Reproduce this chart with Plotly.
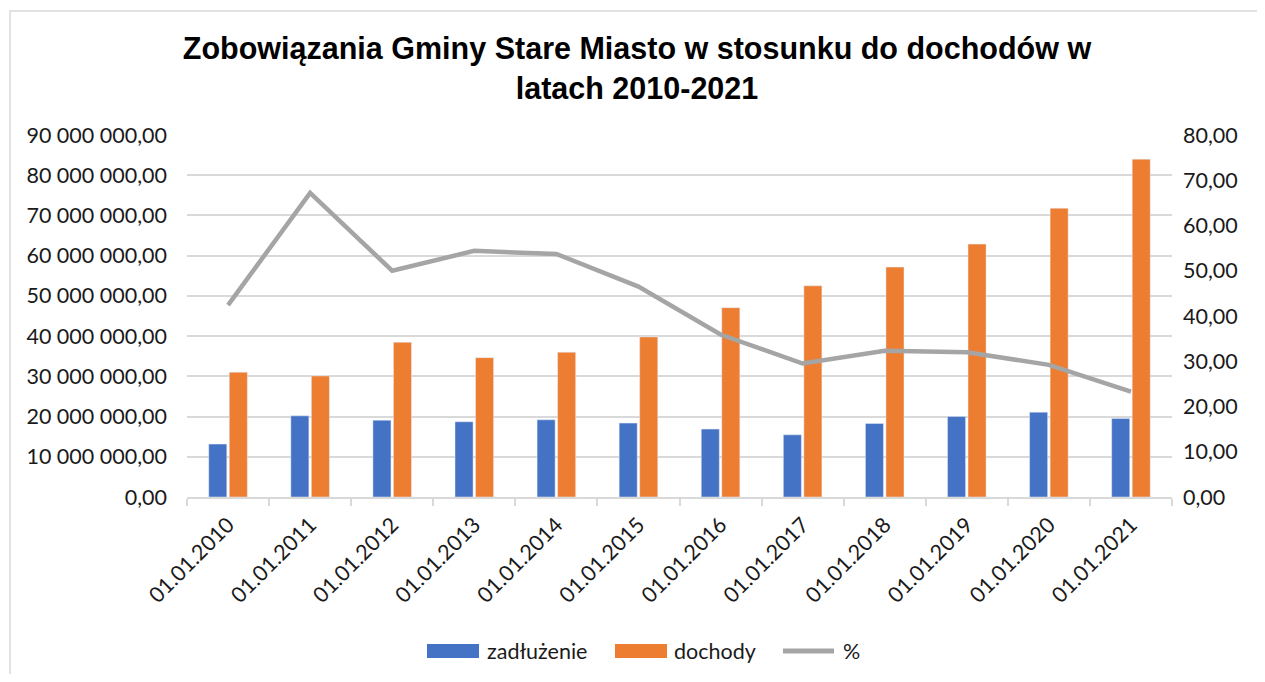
import plotly.graph_objects as go

categories = ["01.01.2010", "01.01.2011", "01.01.2012", "01.01.2013", "01.01.2014", "01.01.2015",
              "01.01.2016", "01.01.2017", "01.01.2018", "01.01.2019", "01.01.2020", "01.01.2021"]
zadluzenie = [13150000, 20180000, 19100000, 18700000, 19200000, 18370000,
              16880000, 15460000, 18270000, 20000000, 21100000, 19500000]
dochody = [31030000, 30100000, 38470000, 34650000, 36000000, 39800000,
           47060000, 52500000, 57160000, 62870000, 71800000, 84000000]
procent = [42.4, 67.2, 50.0, 54.4, 53.7, 46.5, 35.9, 29.5, 32.3, 32.0, 29.2, 23.3]
series_names = ["zadłużenie", "dochody", "%"]
series_colors = ["#4472c4", "#ed7d31", "#a5a5a5"]

FONT = "Lato"
TXT = "#1a1a1a"
GRID = "#d9d9d9"
FS = 21.5

fig = go.Figure()
fig.add_trace(go.Bar(x=categories, y=zadluzenie, name=series_names[0], marker_color=series_colors[0]))
fig.add_trace(go.Bar(x=categories, y=dochody, name=series_names[1], marker_color=series_colors[1]))
fig.add_trace(go.Scatter(x=categories, y=procent, name=series_names[2], mode="lines", yaxis="y2",
                         line=dict(color=series_colors[2], width=4.5)))

OFF = 8  # page body margin
W, H = 1265 - 2 * OFF, 682 - 2 * OFF
L = 187 - OFF
T = 135 - OFF
R = W - (1172 - OFF)
B = H - (497 - OFF)
pw = W - L - R
ph = H - T - B


def px(x):
    return (x - OFF - L) / pw


def py(y):
    return (H - B - (y - OFF)) / ph


fig.update_layout(
    width=W, height=H,
    margin=dict(l=L, r=R, t=T, b=B, autoexpand=False),
    paper_bgcolor="white", plot_bgcolor="white",
    separators=", ",
    barmode="group", bargap=0.5, bargroupgap=0.12,
    font=dict(family=FONT, size=FS, color=TXT),
    title=dict(text="<b>Zobowiązania Gminy Stare Miasto w stosunku do dochodów w<br>latach 2010-2021</b>",
               x=(637 - OFF) / W, xanchor="center", y=1 - 51 / H, yanchor="middle",
               font=dict(family="Liberation Sans", size=30.5, color="black")),
    xaxis=dict(type="category", tickangle=-45, showgrid=False, automargin=False,
               showline=True, linecolor=GRID, linewidth=1.5,
               ticks="outside", tickson="boundaries", ticklen=7, tickcolor=GRID, tickwidth=1.5,
               ticklabelstandoff=5,
               tickfont=dict(family=FONT, size=FS, color=TXT)),
    yaxis=dict(range=[0, 90000000], dtick=10000000, tickformat=",.2f", automargin=False,
               showgrid=True, gridcolor=GRID, gridwidth=1.5, zeroline=False,
               ticklabelstandoff=19,
               tickfont=dict(family=FONT, size=FS, color=TXT)),
    yaxis2=dict(range=[0, 80], dtick=10, tickformat=",.2f", overlaying="y", side="right",
                showgrid=False, zeroline=False, ticklabelstandoff=10, automargin=False,
                tickfont=dict(family=FONT, size=FS, color=TXT)),
    showlegend=False,
)

# chart border
fig.add_shape(type="rect", xref="paper", yref="paper",
              x0=px(10), x1=px(1263), y0=py(700), y1=py(11),
              line=dict(color=GRID, width=1.5), fillcolor="rgba(0,0,0,0)", layer="below")

# legend (drawn manually to match wide swatches)
ly = 651
fig.add_shape(type="rect", xref="paper", yref="paper", x0=px(427), x1=px(479), y0=py(658), y1=py(644),
              fillcolor=series_colors[0], line_width=0)
fig.add_shape(type="rect", xref="paper", yref="paper", x0=px(615), x1=px(667), y0=py(658), y1=py(644),
              fillcolor=series_colors[1], line_width=0)
fig.add_shape(type="line", xref="paper", yref="paper", x0=px(783), x1=px(834), y0=py(ly), y1=py(ly),
              line=dict(color=series_colors[2], width=5))
for xs, name in zip([485, 672, 841], series_names):
    fig.add_annotation(xref="paper", yref="paper", x=px(xs), y=py(ly), xanchor="left", yanchor="middle",
                       text=name, showarrow=False, font=dict(family=FONT, size=FS, color=TXT))

fig.write_html("out.html")
